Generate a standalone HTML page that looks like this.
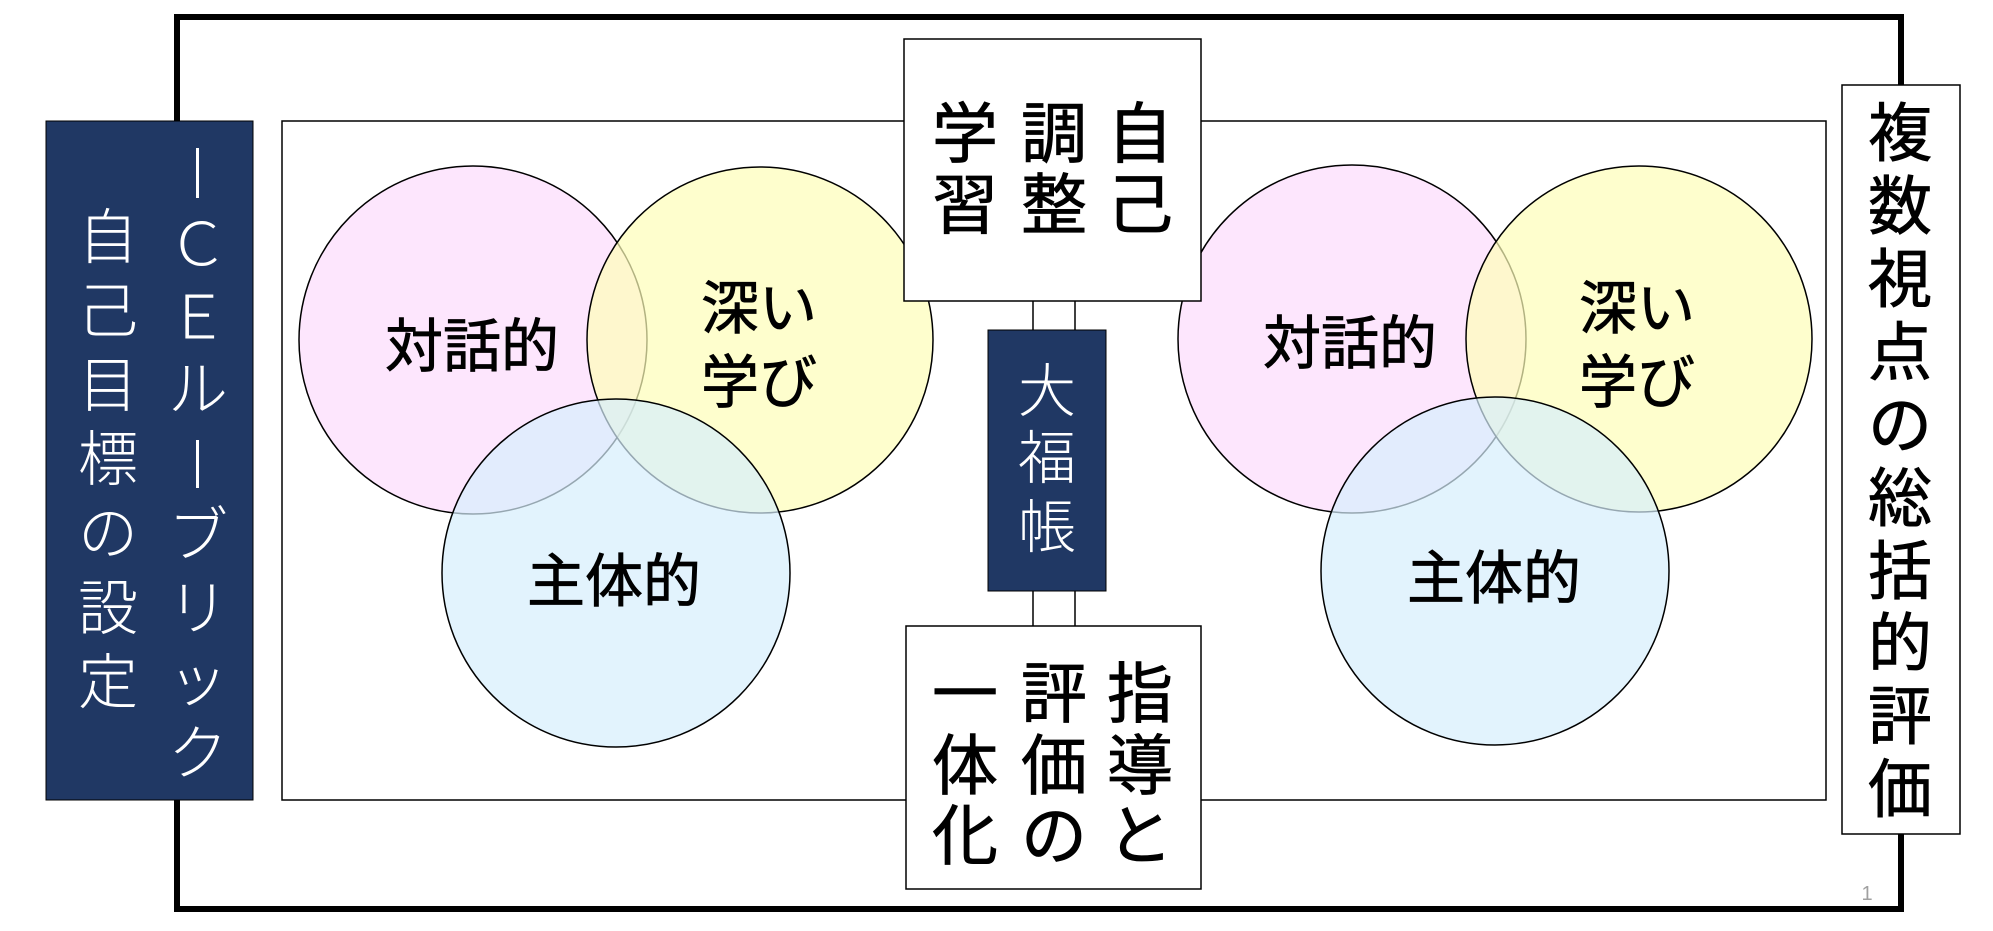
<!DOCTYPE html>
<html><head><meta charset="utf-8"><style>
html,body{margin:0;padding:0;background:#fff;}
svg{display:block;}
text{font-family:"Liberation Sans","Noto Sans CJK JP",sans-serif;dominant-baseline:central;text-anchor:middle;}
</style></head><body>
<svg width="1993" height="931" viewBox="0 0 1993 931" xmlns="http://www.w3.org/2000/svg">
<rect x="177" y="17" width="1724" height="892" fill="none" stroke="#000" stroke-width="6"/>
<rect x="282" y="121" width="1544" height="679" fill="#fff" stroke="#000" stroke-width="1.5"/>
<g stroke="#000" stroke-width="1.5">
<circle cx="473" cy="340" r="174" fill="#fde3fd" fill-opacity="0.9"/>
<circle cx="760" cy="340" r="173" fill="#fdfdb8" fill-opacity="0.7"/>
<circle cx="616" cy="573" r="174" fill="#d6eefc" fill-opacity="0.7"/>
<circle cx="1352" cy="339" r="174" fill="#fde3fd" fill-opacity="0.9"/>
<circle cx="1639" cy="339" r="173" fill="#fdfdb8" fill-opacity="0.7"/>
<circle cx="1495" cy="571" r="174" fill="#d6eefc" fill-opacity="0.7"/>
</g>
<g font-size="58" fill="#000" stroke="#000" stroke-width="0.8">
<text x="472" y="347">対話的</text>
<text x="759" y="309">深い</text>
<text x="759" y="383">学び</text>
<text x="614" y="582">主体的</text>
<text x="1350" y="344">対話的</text>
<text x="1637" y="309">深い</text>
<text x="1637" y="383">学び</text>
<text x="1494" y="579">主体的</text>
</g>
<g stroke="#000" stroke-width="1.5">
<line x1="1033" y1="301" x2="1033" y2="330"/><line x1="1075" y1="301" x2="1075" y2="330"/>
<line x1="1033" y1="591" x2="1033" y2="626"/><line x1="1075" y1="591" x2="1075" y2="626"/>
</g>
<rect x="46" y="121" width="207" height="679" fill="#203864" stroke="#000" stroke-width="1"/>
<rect x="196" y="148" width="3" height="50" fill="#fff"/>
<rect x="196" y="440" width="3" height="48" fill="#fff"/>
<g font-size="60" fill="#fff" font-weight="300">
<text x="198" y="245">Ｃ</text>
<text x="198" y="318">Ｅ</text>
<text x="198" y="390">ル</text>
<text x="198" y="536">ブ</text>
<text x="198" y="609">リ</text>
<text x="198" y="681">ッ</text>
<text x="198" y="754">ク</text>
<text x="108" y="238">自</text>
<text x="108" y="312">己</text>
<text x="108" y="386">目</text>
<text x="108" y="460">標</text>
<text x="108" y="534">の</text>
<text x="108" y="609">設</text>
<text x="108" y="683">定</text>
</g>
<rect x="904" y="39" width="297" height="262" fill="#fff" stroke="#000" stroke-width="1.5"/>
<g font-size="66" fill="#000" stroke="#000" stroke-width="0.8">
<text x="1140" y="134">自</text><text x="1140" y="205">己</text>
<text x="1054" y="134">調</text><text x="1054" y="205">整</text>
<text x="965" y="134">学</text><text x="965" y="205">習</text>
</g>
<rect x="906" y="626" width="295" height="263" fill="#fff" stroke="#000" stroke-width="1.5"/>
<g font-size="66" fill="#000" stroke="#000" stroke-width="0.8">
<text x="1140" y="694">指</text><text x="1140" y="766">導</text><text x="1140" y="836">と</text>
<text x="1054" y="694">評</text><text x="1054" y="766">価</text><text x="1054" y="836">の</text>
<text x="965" y="694">一</text><text x="965" y="766">体</text><text x="965" y="836">化</text>
</g>
<rect x="988" y="330" width="118" height="261" fill="#203864" stroke="#000" stroke-width="1"/>
<g font-size="58" fill="#fff" font-weight="300">
<text x="1047" y="392">大</text><text x="1047" y="459">福</text><text x="1047" y="528">帳</text>
</g>
<rect x="1842" y="85" width="118" height="749" fill="#fff" stroke="#000" stroke-width="1.5"/>
<g font-size="64" fill="#000" stroke="#000" stroke-width="0.8">
<text x="1900" y="134">複</text><text x="1900" y="207">数</text><text x="1900" y="280">視</text>
<text x="1900" y="353">点</text><text x="1900" y="426">の</text><text x="1900" y="499">総</text>
<text x="1900" y="572">括</text><text x="1900" y="644">的</text><text x="1900" y="717">評</text>
<text x="1900" y="790">価</text>
</g>
<text x="1867" y="894" font-size="20" fill="#a0a0a0">1</text>
</svg>
</body></html>
